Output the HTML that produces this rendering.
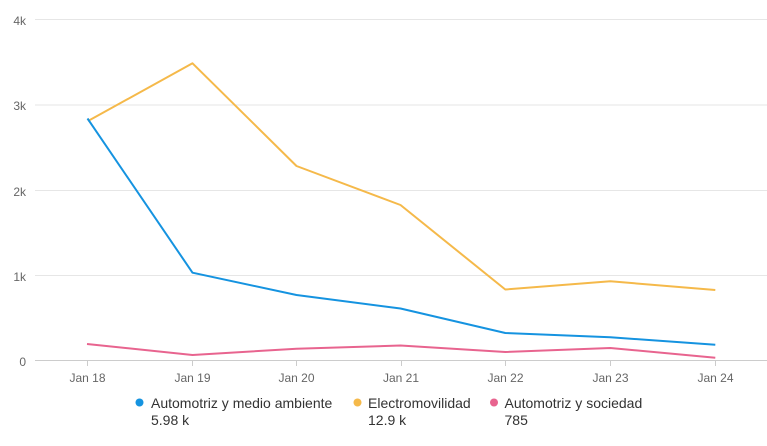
<!DOCTYPE html>
<html><head><meta charset="utf-8"><style>
html,body{margin:0;padding:0;background:#fff;}
svg{display:block;font-family:"Liberation Sans",Arial,sans-serif;}
</style></head><body>
<svg width="767" height="446" viewBox="0 0 767 446" xmlns="http://www.w3.org/2000/svg">
<g stroke="#e6e6e6" stroke-width="1">
<line x1="35" y1="19.5" x2="767" y2="19.5"/>
<line x1="35" y1="105" x2="767" y2="105"/>
<line x1="35" y1="190.5" x2="767" y2="190.5"/>
<line x1="35" y1="275.5" x2="767" y2="275.5"/>
</g>
<line x1="35" y1="360.5" x2="767" y2="360.5" stroke="#ccc" stroke-width="1"/>
<g stroke="#ccc" stroke-width="1">
<line x1="87.5" y1="360" x2="87.5" y2="366"/>
<line x1="192.5" y1="360" x2="192.5" y2="366"/>
<line x1="296.5" y1="360" x2="296.5" y2="366"/>
<line x1="401.5" y1="360" x2="401.5" y2="366"/>
<line x1="505.5" y1="360" x2="505.5" y2="366"/>
<line x1="610.5" y1="360" x2="610.5" y2="366"/>
<line x1="715.5" y1="360" x2="715.5" y2="366"/>
</g>
<g fill="#666" font-size="12" text-anchor="end">
<text x="26" y="25">4k</text>
<text x="26" y="110">3k</text>
<text x="26" y="196">2k</text>
<text x="26" y="281">1k</text>
<text x="26" y="366">0</text>
</g>
<g fill="#666" font-size="12" text-anchor="middle">
<text x="87.5" y="382">Jan 18</text>
<text x="192.5" y="382">Jan 19</text>
<text x="296.5" y="382">Jan 20</text>
<text x="401" y="382">Jan 21</text>
<text x="505.5" y="382">Jan 22</text>
<text x="610.5" y="382">Jan 23</text>
<text x="715.5" y="382">Jan 24</text>
</g>
<polyline fill="none" stroke="#f5b94a" stroke-width="2" stroke-linejoin="round" points="88,121 192.5,63.3 296.5,166 400.5,205 505.3,289.5 610.3,281.3 715.3,290"/>
<polyline fill="none" stroke="#1593e0" stroke-width="2" stroke-linejoin="round" points="87.5,118.5 192.5,272.7 296.5,295 400.5,308.5 505.3,333 610.3,337.3 715.3,344.7"/>
<polyline fill="none" stroke="#e8648f" stroke-width="2" stroke-linejoin="round" points="87,344 192.5,355 296.5,348.7 400.5,345.5 505.3,352 610.3,348 715.3,357.7"/>
<g font-size="14" fill="#333">
<circle cx="139.5" cy="402.5" r="4" fill="#1593e0"/>
<text x="151" y="408">Automotriz y medio ambiente</text>
<text x="151" y="425">5.98 k</text>
<circle cx="357.5" cy="402.5" r="4" fill="#f5b94a"/>
<text x="368" y="408">Electromovilidad</text>
<text x="368" y="425">12.9 k</text>
<circle cx="494" cy="402.5" r="4" fill="#e8648f"/>
<text x="504.5" y="408">Automotriz y sociedad</text>
<text x="504.5" y="425">785</text>
</g>
</svg>
</body></html>
